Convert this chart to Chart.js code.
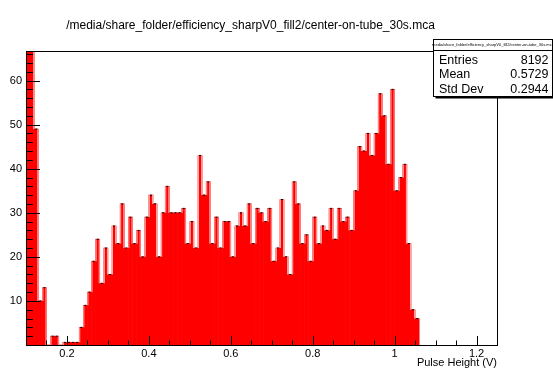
<!DOCTYPE html>
<html>
<head>
<meta charset="utf-8">
<script src="https://cdn.jsdelivr.net/npm/chart.js@4.4.1/dist/chart.umd.min.js"></script>
<style>
  html, body { margin: 0; padding: 0; background: #fff; }
  #wrap { width: 553px; height: 370px; }
</style>
</head>
<body>
<div id="wrap"><canvas id="histChart" width="553" height="370"></canvas></div>
<script>
// Pulse height spectrum, bins of 0.01 V starting at 0.10 V
const titleText = '/media/share_folder/efficiency_sharpV0_fill2/center-on-tube_30s.mca';
const binStart = 0.10;
const binWidth = 0.01;
const counts = [
  80, 72, 49, 10, 13, 0, 2, 2, 0, 0.6,
  0.6, 0.6, 0.6, 4, 9, 12, 19, 24, 14, 22,
  16, 27, 23, 32, 22, 29, 23, 26, 20, 29,
  34, 32, 20, 30, 36, 30, 30, 30, 31, 23,
  28, 22, 43, 34, 37, 23, 29, 22, 28, 28,
  20, 27, 30, 27, 32, 23, 31, 30, 28, 31,
  19, 22, 33, 20, 16, 37, 32, 23, 25, 19,
  29, 23, 27, 26, 31, 24, 31, 28, 29, 26,
  35, 45, 44, 48, 43, 48, 57, 52, 41, 58,
  35, 38, 41, 23, 8, 6
];
const xTicks = [0.2, 0.4, 0.6, 0.8, 1.0, 1.2];
const yTicks = [10, 20, 30, 40, 50, 60];
const statLabels = ['Entries', 'Mean', 'Std Dev'];
const statValues = ['8192', '0.5729', '0.2944'];

const FONT = '"Liberation Sans", Arial, Helvetica, sans-serif';

const points = counts.map((c, i) => ({ x: binStart + binWidth * (i + 0.5), y: c }));

// white slits on the steps between neighbouring bins
const stepEdges = {
  id: 'stepEdges',
  afterDatasetDraw(chart, args) {
    if (args.index !== 0) return;
    const ctx = chart.ctx;
    const area = chart.chartArea;
    const bars = args.meta.data;
    ctx.save();
    ctx.strokeStyle = 'rgba(255,255,255,0.85)';
    ctx.lineWidth = 0.8;
    for (let i = 0; i < bars.length - 1; i++) {
      const a = bars[i], b = bars[i + 1];
      const ya = Math.max(a.y, area.top), yb = Math.max(b.y, area.top);
      if (Math.abs(ya - yb) < 1) continue;
      const edge = a.x + a.width / 2;
      const x = ya < yb ? edge - 0.5 : edge + 0.5;
      ctx.beginPath();
      ctx.moveTo(x, Math.min(ya, yb));
      ctx.lineTo(x, Math.max(ya, yb));
      ctx.stroke();
    }
    ctx.restore();
  }
};

// ROOT style frame, inner ticks, title and stats box
const rootFrame = {
  id: 'rootFrame',
  afterDatasetsDraw(chart) {
    const ctx = chart.ctx;
    const { left, right, top, bottom } = chart.chartArea;
    const xs = chart.scales.x, ys = chart.scales.y;
    ctx.save();
    ctx.strokeStyle = '#000';
    ctx.lineWidth = 1;
    // y ticks: every 2, long every 10
    for (let v = 2; v < ys.max; v += 2) {
      const y = Math.round(ys.getPixelForValue(v)) + 0.5;
      const len = v % 10 === 0 ? 14 : 7;
      ctx.beginPath();
      ctx.moveTo(left, y);
      ctx.lineTo(left + len, y);
      ctx.stroke();
    }
    // x ticks: every 0.05, long every 0.2
    for (let i = 2; i * 0.05 < xs.max + 1e-9; i++) {
      const x = Math.round(xs.getPixelForValue(i * 0.05)) + 0.5;
      const len = i % 4 === 0 ? 9 : 4.5;
      ctx.beginPath();
      ctx.moveTo(x, bottom);
      ctx.lineTo(x, bottom - len);
      ctx.stroke();
    }
    ctx.strokeRect(Math.round(left) + 0.5, Math.round(top) + 0.5,
      Math.round(right - left), Math.round(bottom - top));
    ctx.restore();
  },
  afterDraw(chart) {
    const ctx = chart.ctx;
    ctx.save();
    ctx.fillStyle = '#000';
    ctx.textBaseline = 'middle';
    ctx.textAlign = 'center';
    ctx.font = '12px ' + FONT;
    ctx.fillText(titleText, 250.5, 26);

    // stats box
    const bx = 433.5, by = 39.5, bw = 119, bh = 57;
    ctx.fillStyle = '#000';
    ctx.fillRect(bx + 2, by + bh, bw, 2);
    ctx.fillStyle = '#fff';
    ctx.fillRect(bx, by, bw, bh);
    ctx.strokeStyle = '#000';
    ctx.lineWidth = 1;
    ctx.strokeRect(bx, by, bw, bh);
    ctx.beginPath();
    ctx.moveTo(bx, by + 11);
    ctx.lineTo(bx + bw, by + 11);
    ctx.stroke();
    ctx.fillStyle = '#000';
    ctx.font = '4px ' + FONT;
    ctx.fillText(titleText.slice(1), bx + bw / 2, by + 5.5);
    ctx.font = '12.5px ' + FONT;
    const rowY = [60.5, 75, 89.5];
    statLabels.forEach((lab, i) => {
      ctx.textAlign = 'left';
      ctx.fillText(lab, 439, rowY[i]);
      ctx.textAlign = 'right';
      ctx.fillText(statValues[i], 548.5, rowY[i]);
    });
    ctx.restore();
  }
};

new Chart(document.getElementById('histChart'), {
  type: 'bar',
  data: {
    datasets: [
      {
        label: 'counts',
        data: points,
        backgroundColor: '#ff0000',
        borderWidth: 0,
        barPercentage: 1,
        categoryPercentage: 1,
        order: 2
      },
      {
        type: 'scatter',
        label: 'bin tops',
        data: points.filter(p => p.y > 0),
        pointStyle: 'line',
        radius: 1,
        borderColor: '#000',
        borderWidth: 1,
        order: 1
      }
    ]
  },
  options: {
    responsive: false,
    animation: false,
    devicePixelRatio: 1,
    layout: { padding: { top: 51, right: 56, left: 0, bottom: 0 } },
    plugins: { legend: { display: false }, tooltip: { enabled: false }, title: { display: false } },
    scales: {
      x: {
        type: 'linear',
        offset: false,
        min: 0.1,
        max: 1.25,
        afterFit: s => { s.height = 25; },
        afterBuildTicks: s => { s.ticks = xTicks.map(v => ({ value: v })); },
        grid: { display: false, drawTicks: false, offset: false },
        border: { display: false },
        ticks: {
          padding: 2,
          color: '#000',
          maxRotation: 0,
          autoSkip: false,
          font: { family: FONT, size: 11 },
          callback: v => String(+v.toFixed(1))
        },
        title: {
          display: true,
          text: 'Pulse Height (V)',
          align: 'end',
          padding: 0,
          color: '#000',
          font: { family: FONT, size: 11 }
        }
      },
      y: {
        min: 0,
        max: 66.7,
        afterFit: s => { s.width = 26; },
        afterBuildTicks: s => { s.ticks = yTicks.map(v => ({ value: v })); },
        grid: { display: false, drawTicks: false },
        border: { display: false },
        ticks: {
          padding: 4,
          color: '#000',
          font: { family: FONT, size: 11 }
        }
      }
    }
  },
  plugins: [stepEdges, rootFrame]
});
</script>
</body>
</html>
